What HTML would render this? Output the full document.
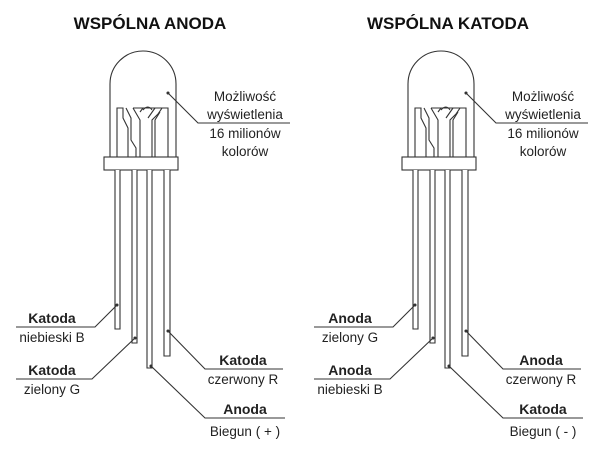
<!DOCTYPE html>
<html><head><meta charset="utf-8"><style>
body{margin:0;background:#fff}
svg{display:block}
text{font-family:"Liberation Sans","DejaVu Sans",sans-serif;fill:#222}
.t{font-size:13.5px;text-anchor:middle}
.b{font-size:14px;font-weight:bold;text-anchor:middle}
.h{font-size:17px;font-weight:bold;text-anchor:middle;fill:#111}
</style></head><body>
<svg width="600" height="455" viewBox="0 0 600 455">
<defs>
<g id="led" stroke="#333" stroke-width="1.1" fill="none">
  <path d="M110,158 V84 A33,33 0 0 1 176,84 V158"/>
  <rect x="104" y="157" width="74" height="13" fill="#fff"/>
  <path d="M117,157 V108 H123 V118 L128,128 V157"/>
  <path d="M126,108 L131,118 V140 L136,148 V157 M133,108 L140,120 V157"/>
  <path d="M143,108 L140,112 M133,108 H162 L158,114 L152,120 V157 M155,108 L148,118"/>
  <path d="M162,108 H168 V157 M160,112 L155,120 V157"/>
  <path d="M152,110 Q148,104 143,110" />
  <path d="M115,170 V329 H120 V170" fill="#fff"/>
  <path d="M132,170 V343 H137 V170" fill="#fff"/>
  <path d="M147,170 V368 H152 V170" fill="#fff"/>
  <path d="M164,170 V356 H170 V170" fill="#fff"/>
  <path d="M168,93 L198,123 H290"/>
  <path d="M117,305 L95,327 H16"/>
  <path d="M135,338 L92,379 H16"/>
  <path d="M168,331 L205,369 H283"/>
  <path d="M151,366 L205,418 H285"/>
  <circle cx="168" cy="93" r="1" fill="#333"/>
  <circle cx="117" cy="305" r="1" fill="#333"/>
  <circle cx="135" cy="338" r="1" fill="#333"/>
  <circle cx="168" cy="331" r="1" fill="#333"/>
  <circle cx="151" cy="366" r="1" fill="#333"/>
</g>
</defs>
<g>
  <text class="h" x="150" y="29">WSPÓLNA ANODA</text>
  <use href="#led"/>
  <text class="t" x="245" y="101">Możliwość</text>
  <text class="t" x="245" y="119">wyświetlenia</text>
  <text class="t" x="245" y="138">16 milionów</text>
  <text class="t" x="245" y="156">kolorów</text>
  <text class="b" x="52" y="323">Katoda</text>
  <text class="t" x="52" y="342">niebieski B</text>
  <text class="b" x="52" y="375">Katoda</text>
  <text class="t" x="52" y="394">zielony G</text>
  <text class="b" x="243" y="365">Katoda</text>
  <text class="t" x="243" y="384">czerwony R</text>
  <text class="b" x="245" y="414">Anoda</text>
  <text class="t" x="245" y="436">Biegun ( + )</text>
</g>
<g transform="translate(298,0)">
  <text class="h" x="150" y="29">WSPÓLNA KATODA</text>
  <use href="#led"/>
  <text class="t" x="245" y="101">Możliwość</text>
  <text class="t" x="245" y="119">wyświetlenia</text>
  <text class="t" x="245" y="138">16 milionów</text>
  <text class="t" x="245" y="156">kolorów</text>
  <text class="b" x="52" y="323">Anoda</text>
  <text class="t" x="52" y="342">zielony G</text>
  <text class="b" x="52" y="375">Anoda</text>
  <text class="t" x="52" y="394">niebieski B</text>
  <text class="b" x="243" y="365">Anoda</text>
  <text class="t" x="243" y="384">czerwony R</text>
  <text class="b" x="245" y="414">Katoda</text>
  <text class="t" x="245" y="436">Biegun ( - )</text>
</g>
</svg>
</body></html>
